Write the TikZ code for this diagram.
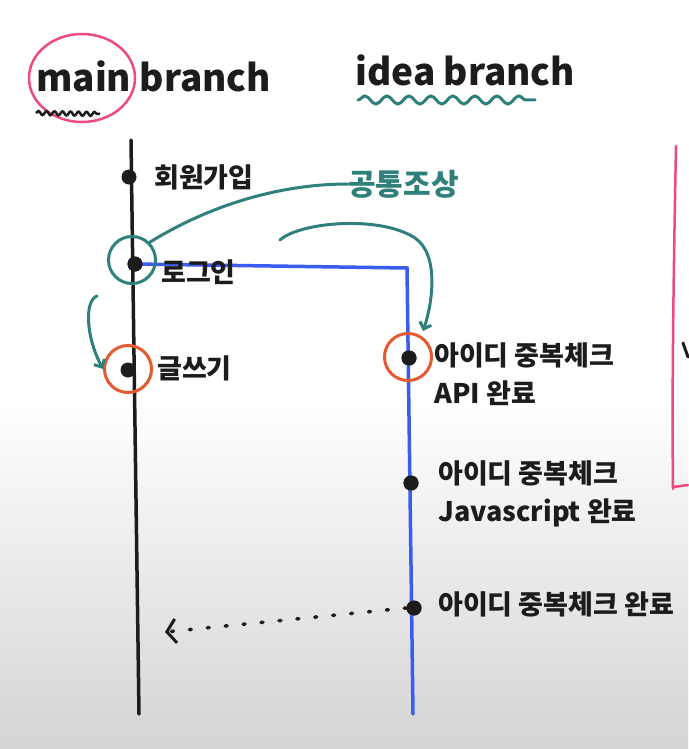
\documentclass[tikz,border=0pt]{standalone}
\usepackage{fontspec}
\setmainfont{Noto Sans CJK KR}
\usetikzlibrary{arrows.meta,decorations.pathmorphing}
\definecolor{ink}{HTML}{1C1C1C}
\definecolor{tealc}{HTML}{2F7F7A}
\definecolor{bluec}{HTML}{3A5CF0}
\definecolor{orangec}{HTML}{E5592E}
\definecolor{pinkc}{HTML}{EE4A7C}
\definecolor{bggray}{HTML}{D4D4D4}
\begin{document}
\begin{tikzpicture}[x=1pt,y=-1pt,
  commit/.style={circle,fill=ink,minimum size=15pt,inner sep=0pt},
  lbl/.style={anchor=west,text=ink,font=\fontsize{27}{32}\selectfont\bfseries,inner sep=0pt},
  title/.style={anchor=west,text=ink,font=\fontsize{37}{42}\selectfont\bfseries,inner sep=0pt},
  ring/.style={circle,draw,line width=3pt,minimum size=47pt,inner sep=0pt},
  branchline/.style={line width=3.5pt,line cap=round},
  pen/.style={line width=3pt,line cap=round,line join=round}]
\useasboundingbox (0,0) rectangle (688,749);
\fill[white] (0,0) rectangle (688,400);
\shade[top color=white,bottom color=bggray] (0,399) rectangle (688,749);

% titles
\node[title] (tmain) at (36,76) {main branch};
\node[title] (tidea) at (355,70) {idea branch};
\draw[pinkc,line width=2.5pt] (82,78) ellipse [x radius=53pt,y radius=44pt];
\draw[ink,line width=2.5pt,decorate,decoration={snake,amplitude=2pt,segment length=8pt}] (36,113) -- (100,114);
\draw[tealc,line width=3pt,line cap=round,decorate,decoration={snake,amplitude=4pt,segment length=22pt}] (358,100) -- (535,100);

% branch lines
\coordinate (mtop) at (131,140);
\coordinate (mbot) at (139,714);
\coordinate (bcorner) at (407,268);
\coordinate (bbot) at (413,714);
\draw[branchline,ink] (mtop) -- (mbot);

% commits
\node[commit] (c1) at (129,177) {};
\node[commit] (c2) at (135,264) {};
\node[commit] (c3) at (128,370) {};
\node[commit] (c4) at (409,358) {};
\node[commit] (c5) at (411,483) {};
\node[commit] (c6) at (414,608) {};
\draw[branchline,bluec] (c2.center) -- (bcorner) -- (bbot);
\foreach \c in {c2,c4,c5,c6} \node[commit] at (\c) {};

% labels
\node[lbl] (l1) at (154,177) {회원가입};
\node[lbl] (l2) at (161,272) {로그인};
\node[lbl] (l3) at (157,368) {글쓰기};
\node[lbl,align=left] (l4) at (434,374) {아이디 중복체크\\[6pt] API 완료};
\node[lbl,align=left] (l5) at (438,494) {아이디 중복체크\\[6pt] Javascript 완료};
\node[lbl] (l6) at (438,604) {아이디 중복체크 완료};
\node[anchor=west,text=tealc,font=\fontsize{30}{34}\selectfont\bfseries,inner sep=0pt] (anc) at (348,184) {공통조상};

% rings
\node[ring,draw=tealc] (r2) at (132,260) {};
\node[ring,draw=orangec] (r3) at (128,369) {};
\node[ring,draw=orangec] (r4) at (408,357) {};

% teal annotations
\draw[pen,tealc] (r2.north east) .. controls (210,205) and (280,184) .. (anc.west);
\draw[pen,tealc,-{Straight Barb[length=6pt,width=12pt]}] (280,240) .. controls (300,222) and (380,215) .. (415,238) .. controls (440,255) and (432,305) .. (423,331);
\coordinate (s3) at (97,296);
\draw[pen,tealc,-{Straight Barb[length=6pt,width=12pt]}] (s3) .. controls (85,300) and (85,335) .. (r3.west);

% merge arrow
\coordinate (mergeend) at (165,632);
\draw[ink,line width=3.5pt,line cap=round,dash pattern=on 2pt off 16pt,-{Straight Barb[length=9pt,width=24pt,line width=3pt]}] (c6.west) -- (mergeend);

% pink bracket on right
\draw[pinkc,line width=2.5pt,line cap=round] (676,146) .. controls (673,300) and (672,400) .. (673,489);
\draw[pinkc,line width=2.5pt,line cap=round] (673,487) -- (688,485);
\draw[ink,line width=3pt,line cap=round] (683,343) -- (688,357);
\end{tikzpicture}
\end{document}
